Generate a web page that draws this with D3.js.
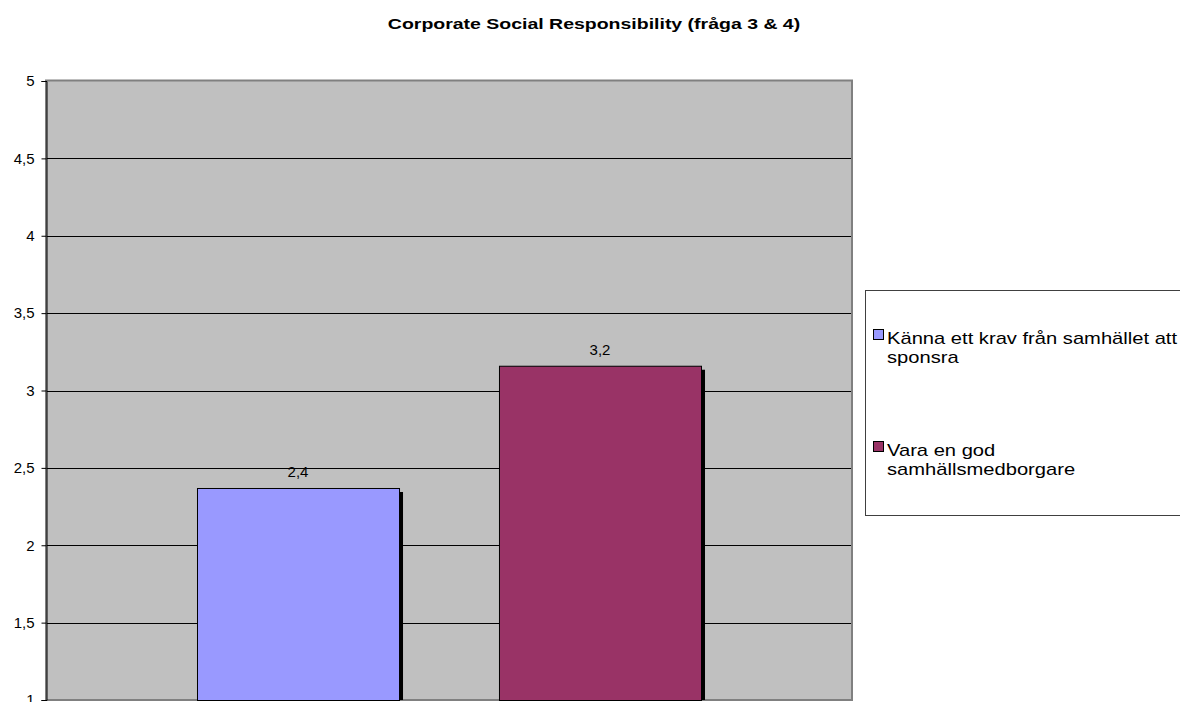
<!DOCTYPE html>
<html>
<head>
<meta charset="utf-8">
<script src="https://cdn.jsdelivr.net/npm/d3@7"></script>
<style>
  html, body { margin: 0; padding: 0; background: #fff; }
  svg { display: block; font-family: Arial, "Liberation Sans", sans-serif; }
</style>
</head>
<body>
<svg id="chart" width="1180" height="702"></svg>
<script>
// Survey averages, question 3 & 4
const series = ["Känna ett krav från samhället att sponsra", "Vara en god samhällsmedborgare"];
const values = [2.37, 3.16];
const colors = ["#9999ff", "#993366"];
const legendLines = [["Känna ett krav från samhället att", "sponsra"], ["Vara en god", "samhällsmedborgare"]];
const yTicks = [1, 1.5, 2, 2.5, 3, 3.5, 4, 4.5, 5];
const titleText = "Corporate Social Responsibility (fråga 3 & 4)";

const svLocale = d3.formatLocale({ decimal: ",", thousands: " ", grouping: [3], currency: ["", " kr"] });
const fmtTick = svLocale.format(".1~f");
const fmtVal = svLocale.format(".1f");

const svg = d3.select("#chart");
const plot = { left: 46, right: 852, top: 81, bottom: 700 };

const x = d3.scaleBand().domain(series).range([plot.left, plot.right])
  .paddingInner(0.331).paddingOuter(0.5);
const y = d3.scaleLinear().domain([1, 5]).range([plot.bottom, plot.top]);

// title (wide-set bold face)
svg.append("g")
  .attr("transform", "translate(594,29) scale(1.3,1)")
  .append("text")
  .attr("x", 0).attr("y", 0)
  .attr("text-anchor", "middle")
  .attr("font-weight", "bold")
  .attr("font-size", 15)
  .text(titleText);

// plot background
svg.append("rect")
  .attr("x", plot.left).attr("y", plot.top)
  .attr("width", plot.right - plot.left).attr("height", plot.bottom - plot.top)
  .attr("fill", "#c0c0c0");

// horizontal gridlines
svg.append("g").selectAll("line")
  .data(yTicks.filter(t => t > 1 && t < 5))
  .join("line")
  .attr("x1", plot.left).attr("x2", plot.right)
  .attr("y1", d => Math.round(y(d)) + 0.5).attr("y2", d => Math.round(y(d)) + 0.5)
  .attr("stroke", "#000").attr("stroke-width", 1);

// plot border
svg.append("rect")
  .attr("x", plot.left).attr("y", plot.top - 0.5)
  .attr("width", plot.right - plot.left).attr("height", plot.bottom - plot.top + 0.5)
  .attr("fill", "none").attr("stroke", "#808080").attr("stroke-width", 2);

// bars: shadow then face
const bars = svg.append("g");
bars.selectAll("rect.shadow")
  .data(values)
  .join("rect")
  .attr("class", "shadow")
  .attr("x", (d, i) => x(series[i]) + 4)
  .attr("y", d => y(d) + 4)
  .attr("width", x.bandwidth())
  .attr("height", d => plot.bottom - y(d) - 4)
  .attr("fill", "#000");
bars.selectAll("rect.bar")
  .data(values)
  .join("rect")
  .attr("class", "bar")
  .attr("x", (d, i) => x(series[i]) + 0.5)
  .attr("y", d => y(d) + 0.5)
  .attr("width", x.bandwidth())
  .attr("height", d => plot.bottom - y(d))
  .attr("fill", (d, i) => colors[i])
  .attr("stroke", "#000").attr("stroke-width", 1);

// value labels
svg.append("g").selectAll("text")
  .data(values)
  .join("text")
  .attr("x", (d, i) => x(series[i]) + x.bandwidth() / 2)
  .attr("y", d => y(d) - 11)
  .attr("text-anchor", "middle")
  .attr("font-size", 15)
  .attr("fill", "#000")
  .text(d => fmtVal(d));

// y axis
const yAxis = d3.axisLeft(y).tickValues(yTicks).tickSize(5).tickPadding(7).tickFormat(fmtTick);
const gy = svg.append("g")
  .attr("transform", `translate(${plot.left + 0.5},0)`)
  .call(yAxis);
gy.select(".domain").attr("stroke", "#000");
gy.selectAll(".tick line").attr("stroke", "#000");
gy.selectAll(".tick text").attr("font-size", 15).attr("font-family", "Arial, 'Liberation Sans', sans-serif").attr("fill", "#000");

// legend
const lg = svg.append("g");
lg.append("rect")
  .attr("x", 865.5).attr("y", 290.5)
  .attr("width", 330).attr("height", 225)
  .attr("fill", "#fff").attr("stroke", "#404040").attr("stroke-width", 1);
const itemY = [344, 456];
legendLines.forEach((lines, i) => {
  lg.append("rect")
    .attr("x", 873.5).attr("y", itemY[i] - 14.5)
    .attr("width", 10).attr("height", 10)
    .attr("fill", colors[i]).attr("stroke", "#000");
  const t = lg.append("g")
    .attr("transform", `translate(887,${itemY[i]}) scale(1.26,1)`)
    .append("text")
    .attr("x", 0).attr("y", 0)
    .attr("font-size", 16)
    .attr("fill", "#000");
  lines.forEach((ln, j) => {
    t.append("tspan").attr("x", 0).attr("dy", j === 0 ? 0 : 19).text(ln);
  });
});
</script>
</body>
</html>
